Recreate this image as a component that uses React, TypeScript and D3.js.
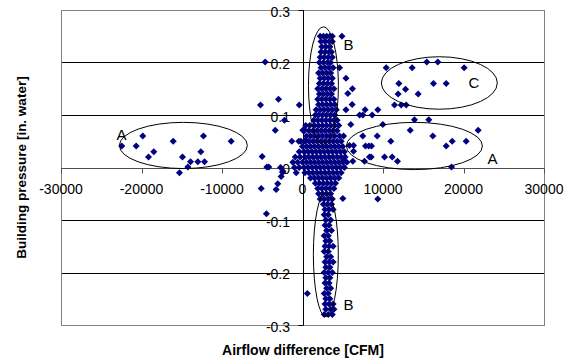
import React from "react";
import * as d3 from "d3";

const xTicks = [-30000, -20000, -10000, 0, 10000, 20000, 30000];
const yTicks = [0.3, 0.2, 0.1, 0, -0.1, -0.2, -0.3];

// [airflow difference CFM, building pressure in. water]
const leftCluster: [number, number][] = [
  [-22450, 0.041], [-20660, 0.041], [-19840, 0.06], [-19130, 0.02], [-18470, 0.03],
  [-16060, 0.05], [-14910, 0.02], [-15280, -0.01], [-14240, 0.001], [-13910, 0.011],
  [-13000, 0.011], [-12170, 0.011], [-12630, 0.03], [-12300, 0.06], [-8860, 0.05],
];

const centreScatter: [number, number][] = [
  [-4640, 0.201], [-5220, 0.119], [-2980, 0.13], [-2240, 0.09], [-3380, 0.071],
  [-400, 0.119], [-1330, 0.05], [-5010, 0.021], [-4430, 0.001], [-4190, 0.001],
  [-2730, 0.0], [-2480, -0.009], [-460, 0.05], [250, 0.072], [40, 0.071],
  [370, 0.052], [-5130, -0.04], [-4480, -0.088], [-3270, -0.042], [-3070, -0.031],
  [-2650, -0.017], [-2440, -0.007], [-780, -0.01], [600, -0.24],
];

const rightScatter: [number, number][] = [
  [4900, 0.25], [4600, 0.19], [5400, 0.17], [6200, 0.15], [5630, 0.141],
  [6170, 0.12], [5400, 0.11], [6000, 0.082], [7100, 0.1], [7500, 0.1],
  [7780, 0.11], [8660, 0.1], [9360, 0.11],
  [10400, 0.19], [11970, 0.16], [11880, 0.14], [12800, 0.149], [13620, 0.19],
  [14370, 0.14], [11430, 0.119], [12260, 0.119], [12880, 0.119], [15440, 0.201],
  [16810, 0.201], [16270, 0.16], [17850, 0.16], [20080, 0.19],
  [9980, 0.082], [13910, 0.091], [15690, 0.091], [13380, 0.071], [7490, 0.06],
  [9280, 0.06], [10970, 0.05], [5840, 0.042], [6340, 0.042], [6340, 0.031],
  [7830, 0.041], [8240, 0.041], [8570, 0.041], [16190, 0.06], [17850, 0.041],
  [18600, 0.05], [20330, 0.05], [21820, 0.071], [5090, 0.012], [6250, 0.012],
  [7700, 0.012], [8320, 0.02], [10190, 0.02], [11140, 0.02], [11800, 0.012],
  [18510, 0.001], [8530, 0.02], [5010, -0.059], [9350, -0.06],
];

// dense column near zero airflow: [pressure, airflow values]
const columnRows: [number, number[]][] = [
  [0.25, [2200, 2600, 3000, 3400, 3700]],
  [0.24, [2300, 2800, 3300, 3700]],
  [0.23, [2400, 2900, 3400]],
  [0.22, [2300, 2800, 3300, 3600]],
  [0.21, [2200, 2700, 3200, 3700]],
  [0.2, [2100, 2600, 3100, 3500]],
  [0.19, [2300, 2800, 3300, 3800]],
  [0.18, [2000, 2500, 3000, 3500]],
  [0.17, [2200, 2700, 3200, 3700]],
  [0.16, [2100, 2600, 3100, 3600]],
  [0.15, [1900, 2400, 2900, 3400, 3900]],
  [0.14, [2100, 2600, 3100, 3600]],
  [0.13, [1900, 2400, 2900, 3400, 3900]],
  [0.12, [2000, 2500, 3000, 3500, 4000]],
  [0.11, [1700, 2200, 2700, 3200, 3700, 4200]],
  [0.1, [1600, 2000, 2500, 3000, 3500, 4000]],
  [0.09, [1400, 1900, 2400, 2900, 3400, 3900, 4300]],
  [0.08, [400, 900, 1500, 2000, 2500, 3000, 3500, 4000, 4500]],
  [0.07, [200, 800, 1300, 1800, 2300, 2800, 3300, 3800, 4300]],
  [0.06, [500, 1000, 1500, 2000, 2500, 3000, 3500, 4000, 4600, 5100]],
  [0.05, [-200, 300, 800, 1300, 1800, 2300, 2800, 3300, 3800, 4300, 4800]],
  [0.04, [0, 500, 1000, 1500, 2000, 2500, 3000, 3500, 4000, 4500, 5000]],
  [0.03, [-400, 200, 700, 1200, 1700, 2200, 2700, 3200, 3700, 4200, 4700, 5200]],
  [0.02, [-900, -300, 300, 800, 1300, 1800, 2300, 2800, 3300, 3800, 4300, 4800, 5300]],
  [0.01, [-1200, -600, 0, 500, 1000, 1500, 2000, 2500, 3000, 3500, 4000, 4500, 5000, 5500]],
  [0.0, [-1000, -400, 200, 700, 1200, 1700, 2200, 2700, 3200, 3700, 4200, 4700, 5200]],
  [-0.01, [300, 800, 1300, 1800, 2300, 2800, 3300, 3800, 4300, 4800]],
  [-0.02, [1000, 1500, 2000, 2500, 3000, 3500, 4000, 4500]],
  [-0.03, [1600, 2100, 2600, 3100, 3600, 4100]],
  [-0.04, [1900, 2400, 2900, 3400, 3900]],
  [-0.05, [2000, 2500, 3000, 3500]],
  [-0.06, [2200, 2700, 3200, 3700]],
  [-0.07, [2600, 3100, 3600]],
  [-0.08, [2800, 3300, 3800]],
  [-0.09, [2700, 3200]],
  [-0.1, [2900, 3500]],
  [-0.11, [2800, 3300]],
  [-0.12, [3000, 3600]],
  [-0.13, [2700, 3200]],
  [-0.14, [2900, 3400]],
  [-0.15, [2800, 3300, 3800]],
  [-0.16, [2700, 3200]],
  [-0.17, [3000, 3500]],
  [-0.18, [2800, 3300, 3800]],
  [-0.19, [2900, 3400]],
  [-0.2, [2700, 3200, 3700]],
  [-0.21, [2900, 3400]],
  [-0.22, [2800, 3300]],
  [-0.23, [3000, 3500]],
  [-0.24, [2700, 3200]],
  [-0.25, [2900, 3400]],
  [-0.26, [2800, 3300, 3800]],
  [-0.27, [2900, 3500, 3900]],
  [-0.28, [2700, 3200, 3700]],
];

// annotation ellipses, data units
const regionNames = ["A", "B", "C", "A", "B"];
const regionCx = [-14800, 2600, 17000, 13900, 2900];
const regionCy = [0.042, 0.156, 0.161, 0.041, -0.166];
const regionRx = [7950, 1860, 7200, 8450, 1550];
const regionRy = [0.044, 0.112, 0.05, 0.045, 0.118];
const labelX = [-23100, 5090, 20620, 22980, 5090];
const labelY = [0.053, 0.223, 0.152, 0.0076, -0.272];

const W = 572;
const H = 362;
const plot = { left: 61, right: 544, top: 10, bottom: 325 };

const App: React.FC = () => {
  const x = d3.scaleLinear().domain([-30000, 30000]).range([plot.left, plot.right]);
  const y = d3.scaleLinear().domain([-0.3, 0.3]).range([plot.bottom, plot.top]);

  const points: [number, number][] = [
    ...leftCluster,
    ...centreScatter,
    ...rightScatter,
    ...columnRows.flatMap(([py, xs]) => xs.map((px) => [px, py] as [number, number])),
  ];

  const diamond = d3.symbol().type(d3.symbolSquare).size(25)() || "";
  const x0 = Math.round(x(0)) + 0.5;
  const y0 = Math.round(y(0)) + 0.5;
  const font = "'Liberation Sans', Arial, sans-serif";

  return (
    <svg
      width={W}
      height={H}
      style={{ position: "absolute", left: 0, top: 0, background: "#fff" }}
      fontFamily={font}
    >
      {/* gridlines */}
      {yTicks
        .filter((t) => t !== 0)
        .map((t) => (
          <line
            key={"g" + t}
            x1={plot.left}
            x2={plot.right}
            y1={Math.round(y(t)) + 0.5}
            y2={Math.round(y(t)) + 0.5}
            stroke="#000"
          />
        ))}
      <rect
        x={plot.left + 0.5}
        y={plot.top + 0.5}
        width={plot.right - plot.left}
        height={plot.bottom - plot.top}
        fill="none"
        stroke="#808080"
      />

      {/* x axis through zero */}
      <line x1={plot.left} x2={plot.right} y1={y0} y2={y0} stroke="#505050" />
      {xTicks.map((t) => (
        <g key={"x" + t}>
          <line
            x1={Math.round(x(t)) + 0.5}
            x2={Math.round(x(t)) + 0.5}
            y1={y0}
            y2={y0 + 5}
            stroke="#505050"
          />
          <text x={x(t)} y={194} fontSize={14} textAnchor="middle" fill="#000">
            {String(t)}
          </text>
        </g>
      ))}

      {/* y axis through zero */}
      <line x1={x0} x2={x0} y1={plot.top} y2={plot.bottom} stroke="#000" />
      {yTicks.map((t) => (
        <g key={"y" + t}>
          <line x1={x0 - 5} x2={x0} y1={Math.round(y(t)) + 0.5} y2={Math.round(y(t)) + 0.5} stroke="#000" />
          <text x={290} y={y(t) + 6.5} fontSize={14} textAnchor="end" fill="#000">
            {String(t)}
          </text>
        </g>
      ))}

      {/* points */}
      {points.map(([px, py], i) => (
        <path
          key={"p" + i}
          d={diamond}
          transform={`translate(${x(px)},${y(py)}) rotate(45)`}
          fill="#000080"
        />
      ))}

      {/* annotations */}
      {regionNames.map((n, i) => (
        <g key={"r" + i}>
          <ellipse
            cx={x(regionCx[i])}
            cy={y(regionCy[i])}
            rx={x(regionRx[i]) - x(0)}
            ry={y(0) - y(regionRy[i])}
            fill="none"
            stroke="#000"
            strokeWidth={1}
          />
          <text x={x(labelX[i])} y={y(labelY[i])} fontSize={15} fill="#000">
            {n}
          </text>
        </g>
      ))}

      {/* titles */}
      <text x={303} y={355} fontSize={14} fontWeight="bold" textAnchor="middle">
        Airflow difference [CFM]
      </text>
      <text
        transform={`translate(26,${(plot.top + plot.bottom) / 2}) rotate(-90)`}
        fontSize={13.5}
        fontWeight="bold"
        textAnchor="middle"
      >
        Building pressure [in. water]
      </text>
    </svg>
  );
};

export default App;
